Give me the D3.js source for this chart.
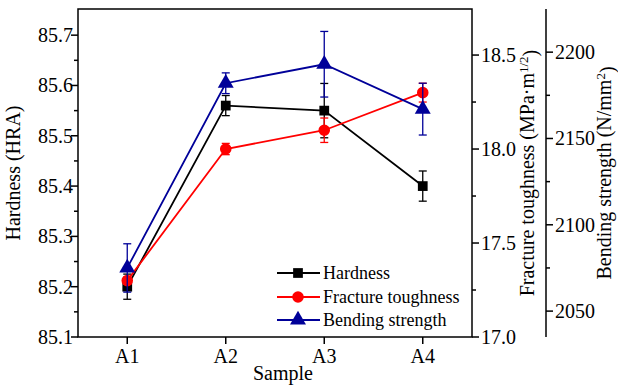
<!DOCTYPE html>
<html lang="en">
<head>
  <meta charset="utf-8">
  <title></title>
  <script src="https://d3js.org/d3.v7.min.js"></script>
</head>
<style>
body { margin: 0; background: white; }
text { font-family: "Liberation Serif", "Times New Roman", serif; fill: black; }
.tick-label { font-size: 20px; }
.axis-title { font-size: 20px; }
.legend-label { font-size: 18px; }
.axis-line { stroke: black; stroke-width: 1.5px; fill: none; }
</style>
<body>
  <div class="chart"></div>
  <script type="text/javascript">
  // data
  var samples = ["A1", "A2", "A3", "A4"];
  var hardness = [85.20, 85.56, 85.55, 85.40];
  var hardnessErr = [0.025, 0.02, 0.054, 0.03];
  var toughness = [17.30, 18.00, 18.10, 18.30];
  var toughnessErr = [0.02, 0.03, 0.065, 0.05];
  var bending = [2075, 2182, 2193, 2167];
  var bendingErr = [14, 6, 19, 15];

  var hardTicks = [85.1, 85.2, 85.3, 85.4, 85.5, 85.6, 85.7];
  var toughTicks = [17.0, 17.5, 18.0, 18.5];
  var bendTicks = [2050, 2100, 2150, 2200];

  var width = 618, height = 387;
  var plot = {left: 78, right: 472, top: 9, bottom: 337};
  var axis3X = 546;

  var svg = d3.select(".chart").append("svg")
    .attr("width", width)
    .attr("height", height);
  svg.append("rect").attr("width", width).attr("height", height).attr("fill", "white");

  var x = d3.scalePoint().domain(samples).range([plot.left, plot.right]).padding(0.5);
  var yHard = d3.scaleLinear().domain([85.1, 85.752]).range([plot.bottom, plot.top]);
  var yTough = d3.scaleLinear().domain([17.0, 18.745]).range([plot.bottom, plot.top]);
  var yBend = d3.scaleLinear().domain([2035, 2225]).range([plot.bottom, plot.top]);

  // frame
  svg.append("rect").attr("class", "axis-line")
    .attr("x", plot.left).attr("y", plot.top)
    .attr("width", plot.right - plot.left).attr("height", plot.bottom - plot.top);

  // left axis
  var minorHard = d3.range(85.15, 85.75, 0.1);
  svg.selectAll(".hard-minor").data(minorHard).enter().append("line")
    .attr("class", "axis-line hard-minor")
    .attr("x1", plot.left - 4).attr("x2", plot.left)
    .attr("y1", function(d){ return yHard(d); }).attr("y2", function(d){ return yHard(d); });
  svg.selectAll(".hard-major").data(hardTicks).enter().append("line")
    .attr("class", "axis-line hard-major")
    .attr("x1", plot.left - 7).attr("x2", plot.left)
    .attr("y1", function(d){ return yHard(d); }).attr("y2", function(d){ return yHard(d); });
  svg.selectAll(".hard-label").data(hardTicks).enter().append("text")
    .attr("class", "tick-label hard-label")
    .attr("x", plot.left - 5).attr("y", function(d){ return yHard(d); })
    .attr("dy", "0.35em").attr("text-anchor", "end")
    .text(function(d){ return d3.format(".1f")(d); });

  // x axis
  svg.selectAll(".x-tick").data(samples).enter().append("line")
    .attr("class", "axis-line x-tick")
    .attr("x1", function(d){ return x(d); }).attr("x2", function(d){ return x(d); })
    .attr("y1", plot.bottom).attr("y2", plot.bottom + 7);
  svg.selectAll(".x-label").data(samples).enter().append("text")
    .attr("class", "tick-label x-label")
    .attr("x", function(d){ return x(d); }).attr("y", plot.bottom + 26)
    .attr("text-anchor", "middle")
    .text(function(d){ return d; });

  // right axis (toughness)
  var minorTough = [17.25, 17.75, 18.25];
  svg.selectAll(".tough-minor").data(minorTough).enter().append("line")
    .attr("class", "axis-line tough-minor")
    .attr("x1", plot.right).attr("x2", plot.right + 4)
    .attr("y1", function(d){ return yTough(d); }).attr("y2", function(d){ return yTough(d); });
  svg.selectAll(".tough-major").data(toughTicks).enter().append("line")
    .attr("class", "axis-line tough-major")
    .attr("x1", plot.right).attr("x2", plot.right + 7)
    .attr("y1", function(d){ return yTough(d); }).attr("y2", function(d){ return yTough(d); });
  svg.selectAll(".tough-label").data(toughTicks).enter().append("text")
    .attr("class", "tick-label tough-label")
    .attr("x", plot.right + 9).attr("y", function(d){ return yTough(d); })
    .attr("dy", "0.35em")
    .text(function(d){ return d3.format(".1f")(d); });

  // third axis (bending)
  svg.append("line").attr("class", "axis-line")
    .attr("x1", axis3X).attr("x2", axis3X)
    .attr("y1", plot.top).attr("y2", plot.bottom);
  var minorBend = [2075, 2125, 2175];
  svg.selectAll(".bend-minor").data(minorBend).enter().append("line")
    .attr("class", "axis-line bend-minor")
    .attr("x1", axis3X).attr("x2", axis3X + 4)
    .attr("y1", function(d){ return yBend(d); }).attr("y2", function(d){ return yBend(d); });
  svg.selectAll(".bend-major").data(bendTicks).enter().append("line")
    .attr("class", "axis-line bend-major")
    .attr("x1", axis3X).attr("x2", axis3X + 7)
    .attr("y1", function(d){ return yBend(d); }).attr("y2", function(d){ return yBend(d); });
  svg.selectAll(".bend-label").data(bendTicks).enter().append("text")
    .attr("class", "tick-label bend-label")
    .attr("x", axis3X + 9).attr("y", function(d){ return yBend(d); })
    .attr("dy", "0.35em")
    .text(function(d){ return d; });

  // axis titles
  svg.append("text").attr("class", "axis-title")
    .attr("transform", "translate(20," + ((plot.top + plot.bottom) / 2) + ") rotate(-90)")
    .attr("text-anchor", "middle")
    .text("Hardness (HRA)");
  svg.append("text").attr("class", "axis-title")
    .attr("x", 283).attr("y", 380).attr("text-anchor", "middle")
    .text("Sample");
  var tTitle = svg.append("text").attr("class", "axis-title")
    .attr("transform", "translate(534," + ((plot.top + plot.bottom) / 2) + ") rotate(-90)")
    .attr("text-anchor", "middle");
  tTitle.append("tspan").text("Fracture toughness (MPa\u00b7m");
  tTitle.append("tspan").attr("dy", "-0.45em").style("font-size", "13px").text("1/2");
  tTitle.append("tspan").attr("dy", "0.45em").text(")");
  var bTitle = svg.append("text").attr("class", "axis-title")
    .attr("transform", "translate(611," + ((plot.top + plot.bottom) / 2) + ") rotate(-90)")
    .attr("text-anchor", "middle");
  bTitle.append("tspan").text("Bending strength (N/mm");
  bTitle.append("tspan").attr("dy", "-0.45em").style("font-size", "13px").text("2");
  bTitle.append("tspan").attr("dy", "0.45em").text(")");

  // series
  var series = [
    {name: "Hardness", values: hardness, errs: hardnessErr, y: yHard, color: "black", shape: d3.symbolSquare, size: 95},
    {name: "Fracture toughness", values: toughness, errs: toughnessErr, y: yTough, color: "#ff0000", shape: d3.symbolCircle, size: 105},
    {name: "Bending strength", values: bending, errs: bendingErr, y: yBend, color: "#000099", shape: d3.symbolTriangle, size: 110}
  ];

  series.forEach(function(s) {
    var g = svg.append("g");
    var pts = samples.map(function(name, i){ return {x: x(name), v: s.values[i], e: s.errs[i]}; });
    var eb = g.selectAll(".eb").data(pts).enter().append("g");
    eb.append("line")
      .attr("x1", function(d){ return d.x; }).attr("x2", function(d){ return d.x; })
      .attr("y1", function(d){ return s.y(d.v - d.e); }).attr("y2", function(d){ return s.y(d.v + d.e); })
      .attr("stroke", s.color).attr("stroke-width", 1.3);
    [-1, 1].forEach(function(sign) {
      eb.append("line")
        .attr("x1", function(d){ return d.x - 4; }).attr("x2", function(d){ return d.x + 4; })
        .attr("y1", function(d){ return s.y(d.v + sign * d.e); }).attr("y2", function(d){ return s.y(d.v + sign * d.e); })
        .attr("stroke", s.color).attr("stroke-width", 1.3);
    });
    g.append("path").datum(pts)
      .attr("fill", "none").attr("stroke", s.color).attr("stroke-width", 1.8)
      .attr("d", d3.line().x(function(d){ return d.x; }).y(function(d){ return s.y(d.v); }));
    g.selectAll(".mk").data(pts).enter().append("path")
      .attr("transform", function(d){ return "translate(" + d.x + "," + s.y(d.v) + ")"; })
      .attr("d", d3.symbol().type(s.shape).size(s.size))
      .attr("fill", s.color);
  });

  // legend
  var legendRows = [273, 297, 320];
  series.forEach(function(s, i) {
    var ly = legendRows[i];
    svg.append("line").attr("x1", 277).attr("x2", 320).attr("y1", ly).attr("y2", ly)
      .attr("stroke", s.color).attr("stroke-width", 1.8);
    svg.append("path").attr("transform", "translate(298," + ly + ")")
      .attr("d", d3.symbol().type(s.shape).size(s.size)).attr("fill", s.color);
    svg.append("text").attr("class", "legend-label")
      .attr("x", 323).attr("y", ly).attr("dy", "0.35em")
      .text(s.name);
  });
  </script>
</body>
</html>
